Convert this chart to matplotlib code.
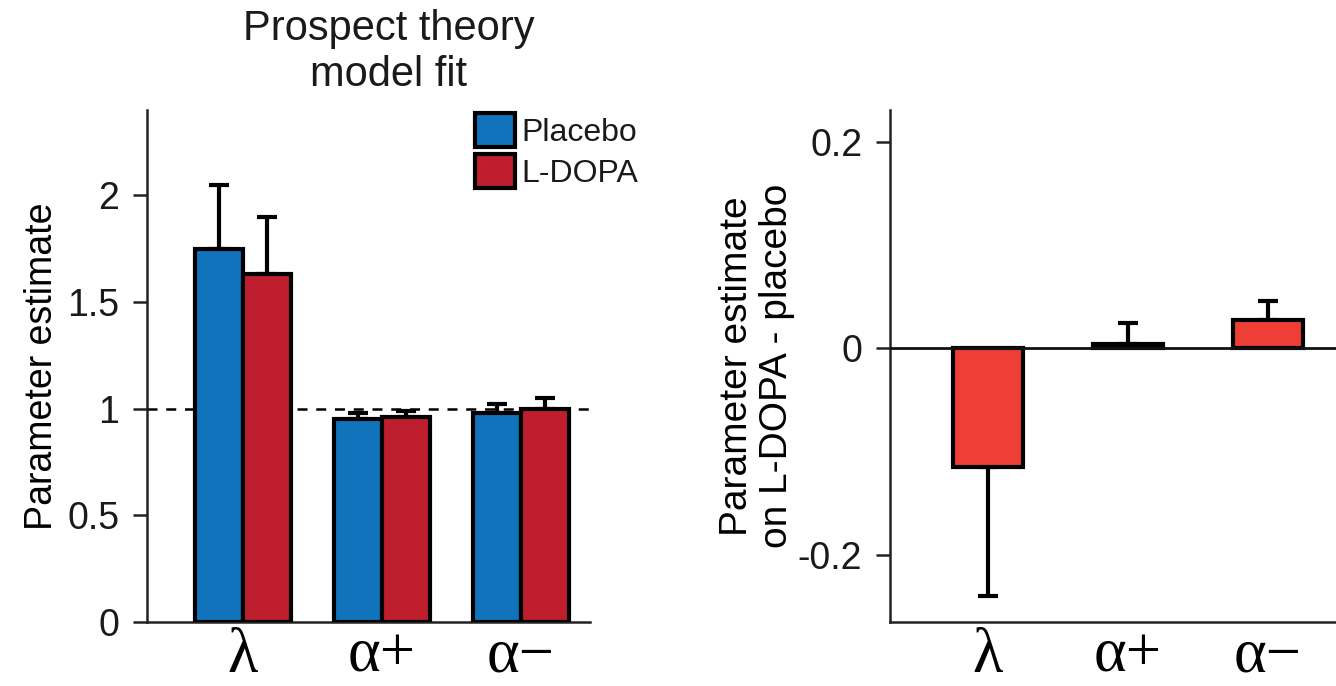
import numpy as np
import matplotlib.pyplot as plt

plt.rcParams['font.family'] = ['Liberation Sans', 'DejaVu Sans']
plt.rcParams['text.color'] = '#1a1a1a'
plt.rcParams['ytick.labelcolor'] = '#1a1a1a'

# parameters and estimates
params = ['λ', 'α+', 'α−']
placebo = [1.75, 0.95, 0.98]
placebo_err = [0.30, 0.03, 0.04]
ldopa = [1.63, 0.96, 1.00]
ldopa_err = [0.27, 0.03, 0.05]

diff = [-0.115, 0.004, 0.028]
diff_err = [0.125, 0.021, 0.018]

blue = '#1273bd'
red = '#be1e2d'
red2 = '#ee3e36'

fig = plt.figure(figsize=(13.36, 6.86), dpi=100)
greek = dict(family=['Liberation Serif', 'DejaVu Serif'], fontsize=45)

# Left panel: model fit per condition
ax1 = fig.add_axes([147/1336, 1 - 622/686, 443/1336, 512/686])
x = np.arange(len(params))
w = 0.345
ax1.bar(x - w/2, placebo, w, color=blue, edgecolor='black', linewidth=3, label='Placebo', zorder=3)
ax1.bar(x + w/2, ldopa, w, color=red, edgecolor='black', linewidth=3, label='L-DOPA', zorder=3)
ax1.errorbar(x - w/2, placebo, yerr=[np.zeros(3), placebo_err], fmt='none', ecolor='black',
             elinewidth=3, capsize=7, capthick=3, zorder=2)
ax1.errorbar(x + w/2, ldopa, yerr=[np.zeros(3), ldopa_err], fmt='none', ecolor='black',
             elinewidth=3, capsize=7, capthick=3, zorder=2)
ax1.axhline(1, color='black', linestyle=(0, (4, 3.5)), linewidth=1.8, zorder=1)
ax1.set_xlim(-0.69, 2.496)
ax1.set_ylim(0, 2.4)
ax1.set_yticks([0, 0.5, 1, 1.5, 2])
ax1.set_yticklabels(['0', '0.5', '1', '1.5', '2'])
ax1.set_xticks(x)
ax1.set_xticklabels(params, **greek)
ax1.tick_params(axis='x', length=0, pad=4)
ax1.tick_params(axis='y', labelsize=27, width=1.8, length=10, pad=10, direction='out', color='#222222')
for s in ['top', 'right']:
    ax1.spines[s].set_visible(False)
for s in ['left', 'bottom']:
    ax1.spines[s].set_linewidth(1.8)
    ax1.spines[s].set_color('#222222')
ax1.set_ylabel('Parameter estimate', fontsize=27, labelpad=5)
ax1.legend(loc='upper left', bbox_to_anchor=(475/1336, 1 - 113/686), bbox_transform=fig.transFigure,
           fontsize=23, frameon=False, handlelength=1.25, handleheight=1.25, handletextpad=0.2,
           labelspacing=0.2, borderpad=0, borderaxespad=0)
fig.text(389/1336, 1 - 52/686, 'Prospect theory\nmodel fit', ha='center', va='center',
         fontsize=30, linespacing=1.22)

# Right panel: difference L-DOPA - placebo
ax2 = fig.add_axes([890/1336, 1 - 622/686, 446/1336, 512/686])
lo = [e if v < 0 else 0 for v, e in zip(diff, diff_err)]
hi = [e if v >= 0 else 0 for v, e in zip(diff, diff_err)]
ax2.bar(x, diff, 0.5, color=red2, edgecolor='black', linewidth=3, zorder=3)
ax2.errorbar(x, diff, yerr=[lo, hi], fmt='none', ecolor='black', elinewidth=3,
             capsize=7, capthick=3, zorder=2)
ax2.axhline(0, color='#111111', linewidth=2, zorder=4)
ax2.set_xlim(-0.70, 2.486)
ax2.set_ylim(-0.265, 0.231)
ax2.set_yticks([-0.2, 0, 0.2])
ax2.set_yticklabels(['-0.2', '0', '0.2'])
ax2.set_xticks(x)
ax2.set_xticklabels(params, **greek)
ax2.tick_params(axis='x', length=0, pad=4)
ax2.tick_params(axis='y', labelsize=27, width=1.8, length=10, pad=10, direction='out', color='#222222')
for s in ['top', 'right']:
    ax2.spines[s].set_visible(False)
for s in ['left', 'bottom']:
    ax2.spines[s].set_linewidth(1.8)
    ax2.spines[s].set_color('#222222')
ax2.set_ylabel('Parameter estimate\non L-DOPA - placebo', fontsize=28, labelpad=2, linespacing=1.15)

fig.savefig('out.png', dpi=100)
